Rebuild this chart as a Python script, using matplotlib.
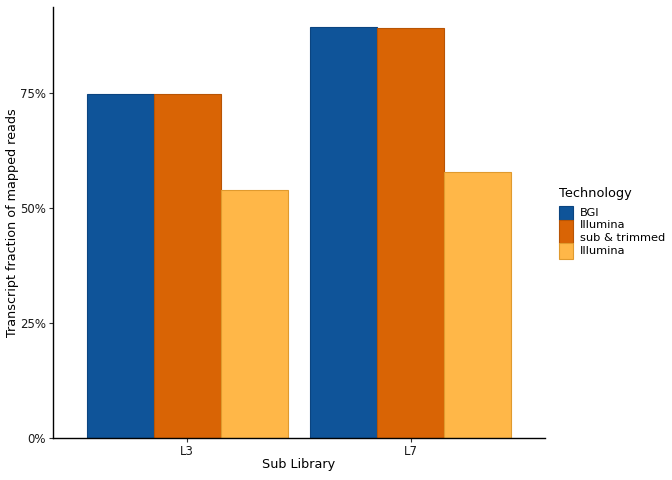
import numpy as np
import matplotlib.pyplot as plt
from matplotlib.patches import Rectangle
from matplotlib.ticker import PercentFormatter

# Data
libraries = ["L3", "L7"]
technologies = ["BGI", "Illumina\nsub & trimmed", "Illumina"]
fractions = {
    "BGI": [0.748, 0.8935],
    "Illumina\nsub & trimmed": [0.747, 0.891],
    "Illumina": [0.539, 0.579],
}
colors = ["#0F5499", "#D96405", "#FFB748"]
edges = ["#0B4480", "#B85404", "#E09A2E"]

W, H = 672, 480
fig = plt.figure(figsize=(W / 100, H / 100), dpi=100)
ax = fig.add_axes([53 / W, 42 / H, (545 - 53) / W, (438 - 7) / H])

x = np.arange(1, len(libraries) + 1)
bw = 0.3
for i, tech in enumerate(technologies):
    ax.bar(x + (i - 1) * bw, fractions[tech], width=bw, color=colors[i],
           edgecolor=edges[i], linewidth=0.8)

ax.set_xlim(0.4, 2.6)
ax.set_ylim(0, 0.937)
ax.set_xticks(x)
ax.set_xticklabels(libraries)
ax.set_yticks([0, 0.25, 0.5, 0.75])
ax.yaxis.set_major_formatter(PercentFormatter(1.0, decimals=0))
ax.tick_params(labelsize=8.5, length=3, pad=2, color="#333333", labelcolor="#1a1a1a")
for s in ["top", "right"]:
    ax.spines[s].set_visible(False)
for s in ["left", "bottom"]:
    ax.spines[s].set_linewidth(1.0)
ax.set_xlabel("Sub Library", fontsize=9.2)
ax.set_ylabel("Transcript fraction of mapped reads", fontsize=9.2)
ax.xaxis.set_label_coords(0.5, (438 - 458) / 431)
ax.yaxis.set_label_coords((19 - 53) / 492, 0.5)

# Legend drawn by hand so the two-line key grows like ggplot's
fig.text(559 / W, 1 - 194 / H, "Technology", fontsize=9.3, va="center", ha="left")
key_tops = [206, 220, 243]
key_bots = [220, 243, 259]
for i, tech in enumerate(technologies):
    y0, y1 = key_tops[i], key_bots[i]
    fig.patches.append(Rectangle((559 / W, 1 - y1 / H), 14 / W, (y1 - y0) / H,
                                 transform=fig.transFigure, facecolor=colors[i],
                                 edgecolor=edges[i], linewidth=0.8))
    fig.text(580 / W, 1 - (y0 + y1) / 2 / H, tech, fontsize=8.2, va="center",
             ha="left", linespacing=1.3)

fig.savefig("out.png", dpi=100)
